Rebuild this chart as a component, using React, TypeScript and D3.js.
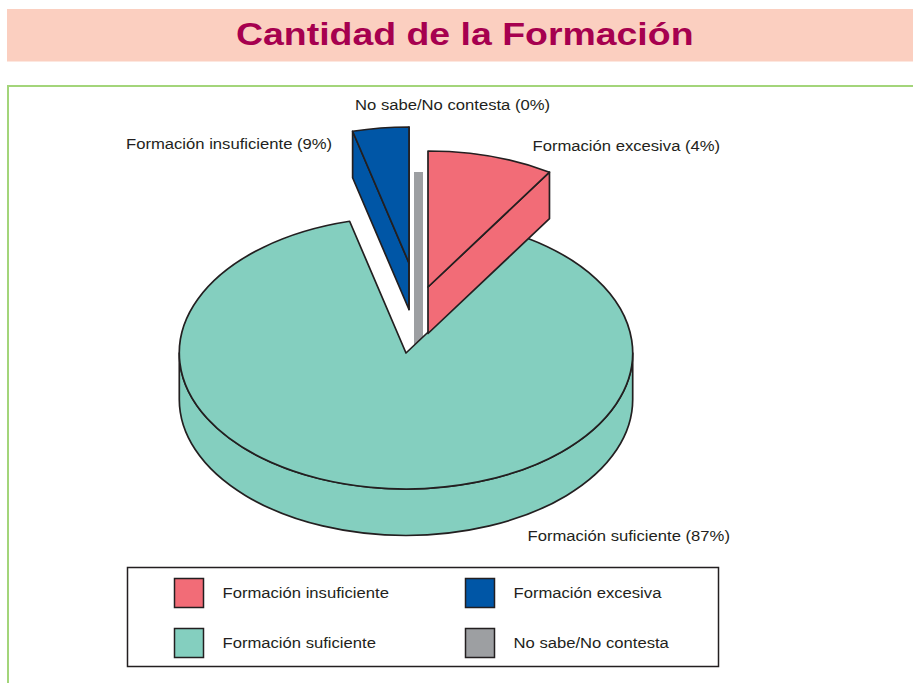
import * as d3 from 'd3';

// data
const categories = ['Formación insuficiente', 'Formación suficiente', 'Formación excesiva', 'No sabe/No contesta'];
const values = [9, 87, 4, 0];
const sliceLabels = ['Formación excesiva (4%)', 'Formación suficiente (87%)', 'Formación insuficiente (9%)', 'No sabe/No contesta (0%)'];

// styles / layout, kept apart from the data
const colors = ['#f26c77', '#84cfbf', '#0056a6', '#9d9fa2'];
const explode: [number, number][] = [[22, -66], [0, 0], [3, -90], [12.5, -45]];
const labelPos: [number, number][] = [[532.5, 151], [527.5, 541], [126, 149], [355, 109.5]];
const drawOrder = [3, 1, 2, 0];

const W = 913;
const H = 683;
const cx = 406;
const cy = 353;
const rx = 226.7;
const ry = 136;
const depth = 46.5;
const ink = '#231f20';
const sx = 1.11;

function Txt({ x, y, children, size = 15, weight = 400, fill = ink, scale = sx }: any) {
  return (
    <text
      transform={`translate(${x},${y}) scale(${scale},1)`}
      fontFamily="'Liberation Sans', Arial, Helvetica, sans-serif"
      fontSize={size}
      fontWeight={weight}
      fill={fill}
    >
      {children}
    </text>
  );
}

export default function App() {
  const arcs = d3.pie<number>().sort(null).value((d) => d)(values);

  const pt = (ox: number, oy: number, a: number, dy = 0): [number, number] => [
    ox + rx * Math.sin(a),
    oy - ry * Math.cos(a) + dy,
  ];
  const f = (p: [number, number]) => `${p[0].toFixed(2)},${p[1].toFixed(2)}`;

  const slices = drawOrder.map((i) => {
    const a = arcs[i];
    const ox = cx + explode[i][0];
    const oy = cy + explode[i][1];
    const a0 = a.startAngle;
    const a1 = a.endAngle;
    const parts: JSX.Element[] = [];

    if (a1 - a0 < 1e-6) {
      // zero-width slice: only an edge-on wall remains
      const top = pt(ox, oy, a0);
      parts.push(
        <path key="z" d={`M${f(top)}L${f([ox, oy + depth])}`} stroke={colors[i]} strokeWidth={9} fill="none" />
      );
      return <g key={i}>{parts}</g>;
    }

    // radial walls facing the viewer
    const wall = (ang: number, k: string) => {
      const p = pt(ox, oy, ang);
      const d = `M${f([ox, oy])}L${f(p)}L${f([p[0], p[1] + depth])}L${f([ox, oy + depth])}Z`;
      parts.push(<path key={k} d={d} fill={colors[i]} stroke={ink} strokeWidth={1.7} strokeLinejoin="round" />);
    };
    if (Math.sin(a0) < 0) wall(a0, 'w0');
    if (Math.sin(a1) > 0) wall(a1, 'w1');

    // outer rim, front half only
    const s = Math.max(a0, Math.PI / 2);
    const e = Math.min(a1, (3 * Math.PI) / 2);
    if (s < e) {
      const d =
        `M${f(pt(ox, oy, s))}A${rx},${ry} 0 0 1 ${f(pt(ox, oy, e))}` +
        `L${f(pt(ox, oy, e, depth))}A${rx},${ry} 0 0 0 ${f(pt(ox, oy, s, depth))}Z`;
      parts.push(<path key="rim" d={d} fill={colors[i]} stroke={ink} strokeWidth={1.7} strokeLinejoin="round" />);
    }

    // top face
    const large = a1 - a0 > Math.PI ? 1 : 0;
    const top = `M${f([ox, oy])}L${f(pt(ox, oy, a0))}A${rx},${ry} 0 ${large} 1 ${f(pt(ox, oy, a1))}Z`;
    parts.push(<path key="top" d={top} fill={colors[i]} stroke={ink} strokeWidth={1.7} strokeLinejoin="round" />);
    return <g key={i}>{parts}</g>;
  });

  return (
    <div style={{ position: 'absolute', left: 0, top: 0 }}>
      <svg width={W} height={H} style={{ display: 'block', background: '#fff' }}>
        <rect x={7} y={9} width={W - 7} height={52.5} fill="#fbcfc0" />
        <Txt x={236} y={45} size={32} weight={700} fill="#a6004f" scale={1.17}>
          Cantidad de la Formación
        </Txt>
        <path d={`M8,${H + 5}V86H${W + 5}`} fill="none" stroke="#a3d57a" strokeWidth={2} />

        {slices}

        {sliceLabels.map((t, i) => (
          <Txt key={t} x={labelPos[i][0]} y={labelPos[i][1]}>
            {t}
          </Txt>
        ))}

        <rect x={127.5} y={567.5} width={591} height={99} fill="#fff" stroke={ink} strokeWidth={1.5} />
        {categories.map((c, i) => {
          const col = Math.floor(i / 2);
          const row = i % 2;
          const x = 174.5 + col * 291;
          const y = 578.5 + row * 50;
          return (
            <g key={c}>
              <rect x={x} y={y} width={29} height={29} fill={colors[i]} stroke={ink} strokeWidth={1.5} />
              <Txt x={x + 48} y={y + 19}>
                {c}
              </Txt>
            </g>
          );
        })}
      </svg>
    </div>
  );
}
